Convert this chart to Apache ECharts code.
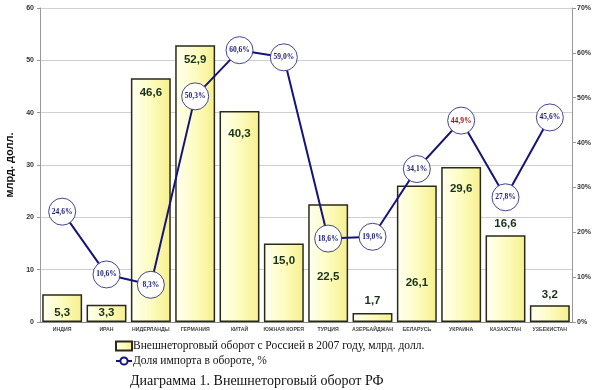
<!DOCTYPE html>
<html><head><meta charset="utf-8">
<script src="https://cdn.jsdelivr.net/npm/echarts@6/dist/echarts.min.js"></script>
<style>html,body{margin:0;padding:0;background:#fff}#c{width:600px;height:390px}</style>
</head><body><div id="c"></div>
<script>
var categories = ['ИНДИЯ','ИРАН','НИДЕРЛАНДЫ','ГЕРМАНИЯ','КИТАЙ','ЮЖНАЯ КОРЕЯ','ТУРЦИЯ','АЗЕРБАЙДЖАН','БЕЛАРУСЬ','УКРАИНА','КАЗАХСТАН','УЗБЕКИСТАН'];
var turnover = [5.3, 3.3, 46.6, 52.9, 40.3, 15.0, 22.5, 1.7, 26.1, 29.6, 16.6, 3.2];
var importShare = [24.6, 10.6, 8.3, 50.3, 60.6, 59.0, 18.6, 19.0, 34.1, 44.9, 27.8, 45.6];
var barSeriesName = 'Внешнеторговый оборот с Россией в 2007 году, млрд. долл.';
var lineSeriesName = 'Доля импорта в обороте, %';
var titleText = 'Диаграмма 1. Внешнеторговый оборот РФ';
var leftAxisName = 'млрд. долл.';

// label placement styling (not data)
var barLabelStyle = [
  ['insideBottom',3],['insideBottom',3],['insideTop',9],['insideTop',9],['insideTop',17],['insideTop',11],
  ['insideTop',67],['top',6],['insideTop',91],['insideTop',16],['top',5],['top',4]
];
function fmt(v){ return v.toFixed(1).replace('.', ','); }

var barData = turnover.map(function(v,i){
  return {value:v, label:{position:barLabelStyle[i][0], distance:barLabelStyle[i][1]}};
});
var lineData = importShare.map(function(v,i){
  var d = {value:v};
  if (i === 9) d.label = {color:'#a01010'};
  return d;
});

var chart = echarts.init(document.getElementById('c'), null, {renderer:'canvas'});
chart.setOption({
  animation:false,
  backgroundColor:'#fff',
  title:{text:titleText, left:125, top:369, textStyle:{fontFamily:'Liberation Serif', fontSize:14, fontWeight:'normal', color:'#111'}},
  legend:{
    orient:'vertical', left:110, top:335, itemGap:3, itemWidth:16, itemHeight:9,
    textStyle:{fontFamily:'Liberation Serif', fontSize:11.5, color:'#111', padding:[0,0,0,-4]},
    data:[{name:barSeriesName, icon:'rect'},{name:lineSeriesName}]
  },
  grid:{left:40, right:28, top:8, bottom:68, containLabel:false, outerBoundsMode:'none'},
  xAxis:{
    type:'category', data:categories,
    axisLine:{lineStyle:{color:'#888'}},
    axisTick:{show:false},
    axisLabel:{interval:0, fontSize:5.2, fontWeight:'bold', color:'#444', fontFamily:'Arial', margin:5}
  },
  yAxis:[
    {type:'value', min:0, max:60, interval:10, name:leftAxisName, nameLocation:'middle', nameGap:22,
     nameTextStyle:{fontFamily:'Arial', fontSize:11, fontWeight:'bold', color:'#111'},
     axisLine:{show:true, lineStyle:{color:'#999'}}, axisTick:{show:true, length:3, lineStyle:{color:'#999'}},
     axisLabel:{fontSize:7, fontWeight:'bold', color:'#333', margin:6},
     splitLine:{lineStyle:{color:'#cfcfcf', width:1.2}}},
    {type:'value', min:0, max:70, interval:10, position:'right',
     axisLine:{show:true, lineStyle:{color:'#999'}}, axisTick:{show:true, length:4, lineStyle:{color:'#999'}},
     axisLabel:{fontSize:7, fontWeight:'bold', color:'#333', margin:5, formatter:'{value}%'},
     splitLine:{show:false}}
  ],
  series:[
    {name:barSeriesName, type:'bar', data:barData, barWidth:'90%',
     itemStyle:{
       color:new echarts.graphic.LinearGradient(0,0,1,0,[
         {offset:0,color:'#fffff2'},{offset:0.5,color:'#fdfcc0'},{offset:1,color:'#f6f08c'}]),
       borderColor:'#2a2a1a', borderWidth:1.5},
     label:{show:true, fontFamily:'Arial', fontSize:11.5, fontWeight:'bold', color:'#17331a',
       formatter:function(p){return fmt(p.value);}}},
    {name:lineSeriesName, type:'line', yAxisIndex:1, data:lineData,
     lineStyle:{color:'#14147a', width:2},
     symbol:'circle', symbolSize:27,
     itemStyle:{color:'#fff', borderColor:'#14147a', borderWidth:0.8},
     label:{show:true, position:'inside', fontFamily:'Liberation Serif', fontSize:7.5, fontWeight:'bold', color:'#1a1a7a',
       formatter:function(p){return fmt(p.value)+'%';}},
     z:5}
  ]
});
</script></body></html>
